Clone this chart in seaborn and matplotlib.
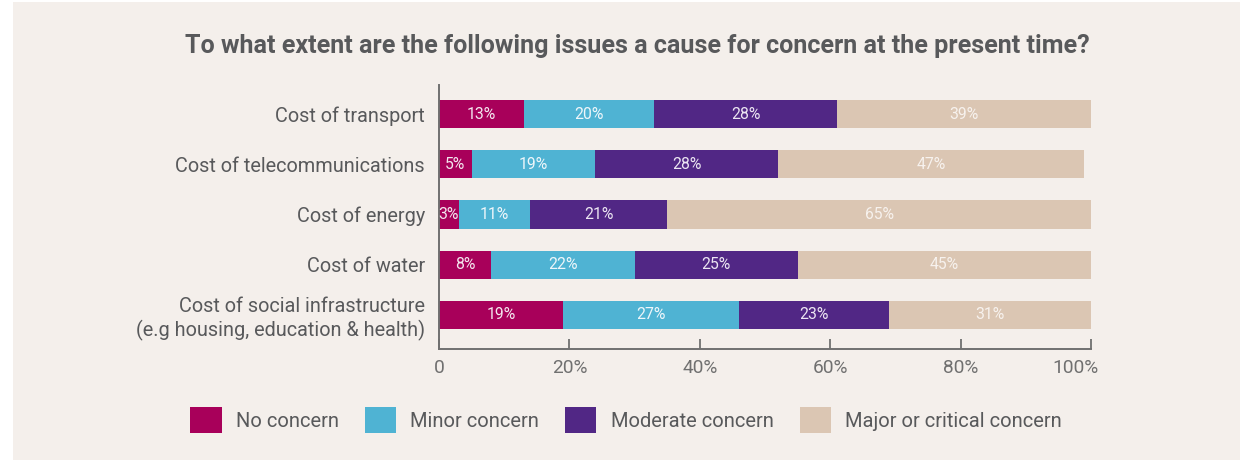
import matplotlib
matplotlib.use("Agg")
import matplotlib.pyplot as plt
from matplotlib.patches import Rectangle, Patch
from matplotlib.transforms import ScaledTranslation
import numpy as np
import pandas as pd
import seaborn as sns

# Survey results, percent of respondents per issue
issues = [
    "Cost of transport",
    "Cost of telecommunications",
    "Cost of energy",
    "Cost of water",
    "Cost of social infrastructure\n(e.g housing, education & health)",
]
levels = ["No concern", "Minor concern", "Moderate concern", "Major or critical concern"]
no_concern = [13, 5, 3, 8, 19]
minor_concern = [20, 19, 11, 22, 27]
moderate_concern = [28, 28, 21, 25, 23]
major_concern = [39, 47, 65, 45, 31]
x_ticks = [0, 20, 40, 60, 80, 100]
x_tick_labels = ["0", "20%", "40%", "60%", "80%", "100%"]

colors = ["#a8005a", "#4fb3d3", "#512785", "#dbc6b3"]
label_colors = ["#f3e6ee", "#eef6fa", "#ece6f2", "#f7f2ee"]
bg = "#f4efeb"
text_gray = "#58595b"
axis_gray = "#707070"

sns.set_theme(style="white")
plt.rcParams["font.family"] = ["Roboto", "DejaVu Sans"]

series = [no_concern, minor_concern, moderate_concern, major_concern]
df = pd.DataFrame({lvl: vals for lvl, vals in zip(levels, series)}, index=issues)
cum = df.cumsum(axis=1)

fig = plt.figure(figsize=(12.4, 4.61), dpi=100, facecolor="white")
fig.patches.append(Rectangle((13 / 1240, 1 / 461), 1 - 13 / 1240, 1 - 3 / 461,
                             transform=fig.transFigure, facecolor=bg,
                             edgecolor="none", zorder=-10))
ax = fig.add_axes([439 / 1240, 1 - 349 / 461, 652 / 1240, 264 / 461])
ax.set_facecolor(bg)

# Stacked bars: draw cumulative totals from the outermost segment inward
for i in reversed(range(len(levels))):
    tmp = pd.DataFrame({"issue": issues, "value": cum[levels[i]].values})
    sns.barplot(data=tmp, x="value", y="issue", orient="h", color=colors[i],
                saturation=1, width=0.56, ax=ax, edgecolor="none", linewidth=0)

# Segment value labels
for i, lvl in enumerate(levels):
    for j, issue in enumerate(issues):
        v = df.loc[issue, lvl]
        center = cum.loc[issue, lvl] - v / 2
        ax.text(center, j, f"{v}%", ha="center", va="center",
                color=label_colors[i], fontsize=11.3)

ax.set_xlim(0, 100)
ax.set_ylim(4.68, -0.58)
ax.set_xticks(x_ticks)
ax.set_xticklabels(x_tick_labels, color=axis_gray, fontsize=13.8)
ax.set_xlabel("")
ax.set_ylabel("")
ax.tick_params(axis="x", direction="in", length=7, width=1.3, color=axis_gray, pad=7,
               bottom=True)
ax.tick_params(axis="y", length=0, pad=10, labelsize=14.3, labelcolor=text_gray)
for lbl in ax.get_yticklabels():
    lbl.set_horizontalalignment("right")
    lbl.set_multialignment("right")
# keep the last tick label inside the plotting edge
last = ax.get_xticklabels()[-1]
last.set_transform(last.get_transform() + ScaledTranslation(-0.15, 0, fig.dpi_scale_trans))
for side in ["top", "right"]:
    ax.spines[side].set_visible(False)
for side in ["left", "bottom"]:
    ax.spines[side].set_color(axis_gray)
    ax.spines[side].set_linewidth(1.4)

fig.text(0.514, 1 - 46 / 461,
         "To what extent are the following issues a cause for concern at the present time?",
         ha="center", va="center", fontsize=18.1, fontweight="bold", color=text_gray)

handles = [Patch(facecolor=c, edgecolor="none", label=l) for c, l in zip(colors, levels)]
fig.legend(handles=handles, loc="center", bbox_to_anchor=(626 / 1240, 1 - 420 / 461),
           ncol=4, frameon=False, fontsize=14.5, labelcolor=text_gray,
           handlelength=1.55, handleheight=1.6, handletextpad=0.7, columnspacing=1.3)

fig.savefig("out.png", dpi=100, facecolor="white")
